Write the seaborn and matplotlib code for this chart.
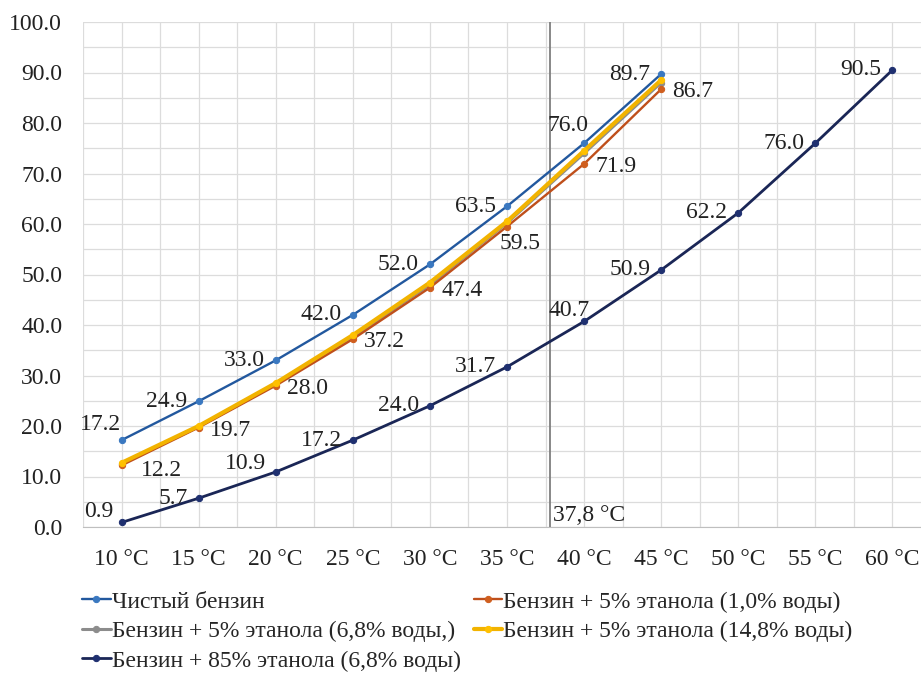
import numpy as np
import pandas as pd
import matplotlib
matplotlib.use('Agg')
import matplotlib.pyplot as plt
import seaborn as sns

# data
temps = [10, 15, 20, 25, 30, 35, 40, 45, 50, 55, 60]
tick_labels = [f'{t} °C' for t in temps]
pure = [17.2, 24.9, 33.0, 42.0, 52.0, 63.5, 76.0, 89.7]
e5_w10 = [12.2, 19.7, 28.0, 37.2, 47.4, 59.5, 71.9, 86.7]
e5_w68 = [12.5, 19.9, 28.3, 37.7, 48.0, 60.2, 74.0, 88.0]
e5_w148 = [12.7, 20.0, 28.5, 38.0, 48.4, 60.5, 74.5, 88.5]
e85_w68 = [0.9, 5.7, 10.9, 17.2, 24.0, 31.7, 40.7, 50.9, 62.2, 76.0, 90.5]
vline_temp = 37.8

names = ['Чистый бензин',
         'Бензин + 5% этанола (1,0% воды)',
         'Бензин + 5% этанола (6,8% воды,)',
         'Бензин + 5% этанола (14,8% воды)',
         'Бензин + 85% этанола (6,8% воды)']
series = [pure, e5_w10, e5_w68, e5_w148, e85_w68]
line_cols = ['#22589e', '#bf4f1b', '#8c8c8c', '#f2b300', '#1a2656']
mark_cols = ['#3a78c0', '#cf5e1e', '#8c8c8c', '#ffc000', '#1f3070']
widths = [1.7, 1.7, 2.2, 3.0, 2.0]

# value label placement: series -> (ha, dx, dy) in points, plus a few hand nudges
label_style = {0: ('right', -8, 0), 1: ('left', 8, -2), 4: ('right', -8, 0)}
nudges = {(0, 0): ('right', 0, 11), (0, 6): ('right', 3, 13),
          (1, 0): ('left', 14, -4), (1, 5): ('left', -5, -12),
          (4, 0): ('right', -6, 8), (4, 2): ('right', -7, 6),
          (4, 6): ('right', 4, 8)}

rows = []
for name, vals in zip(names, series):
    for i, v in enumerate(vals):
        rows.append({'series': name, 'pos': i, 'value': v})
df = pd.DataFrame(rows)

sns.set_style('white')
plt.rcParams['font.family'] = ['Liberation Serif', 'DejaVu Serif']

fig = plt.figure(figsize=(9.21, 6.77), dpi=100)
ax = fig.add_axes([83 / 921, 150 / 677, 848 / 921, 505 / 677])

for k, name in enumerate(names):
    sub = df[df['series'] == name]
    sns.lineplot(data=sub, x='pos', y='value', ax=ax, color=line_cols[k],
                 lw=widths[k], marker='o', markersize=4.5,
                 markerfacecolor=mark_cols[k], markeredgecolor=mark_cols[k],
                 label=name, zorder=3 + k if k != 2 else 3)

for k, (ha, dx, dy) in label_style.items():
    for i, v in enumerate(series[k]):
        h, x_off, y_off = nudges.get((k, i), (ha, dx, dy))
        ax.annotate(f'{v:.1f}', (i, v), xytext=(x_off, y_off), textcoords='offset points',
                    ha=h, va='center', fontsize=17, color='#222222', zorder=10)

vx = (vline_temp - temps[0]) / (temps[1] - temps[0])
ax.axvline(vx, color='#7f7f7f', lw=1.3, zorder=2)
ax.annotate('37,8 °C', (vx, 0), xytext=(2, 1), textcoords='offset points',
            ha='left', va='bottom', fontsize=17, color='#222222')

ax.set_xlim(-0.5, len(temps) - 0.5)
ax.set_ylim(0, 100)
ax.set_xticks(range(len(temps)))
ax.set_xticklabels(tick_labels)
ax.set_xticks(np.arange(-0.5, len(temps), 0.5), minor=True)
ax.set_yticks(np.arange(0, 101, 10))
ax.set_yticklabels([f'{v:.1f}' for v in np.arange(0, 101, 10)])
ax.set_yticks(np.arange(0, 101, 5), minor=True)
ax.grid(True, which='both', color='#dcdcdc', lw=0.9, zorder=0)
ax.tick_params(axis='both', which='both', length=0, labelsize=17, colors='#222222')
ax.tick_params(axis='x', pad=16)
ax.tick_params(axis='y', pad=15)
ax.set_xlabel('')
ax.set_ylabel('')
for s in ['left', 'top', 'right']:
    ax.spines[s].set_visible(False)
ax.spines['bottom'].set_color('#bfbfbf')

handles, labels = ax.get_legend_handles_labels()
order = [0, 2, 4, 1, 3]
ax.legend([handles[i] for i in order], [labels[i] for i in order], ncol=2,
          loc='upper left', bbox_to_anchor=(-0.012, -0.108), frameon=False,
          fontsize=17, handlelength=1.2, handletextpad=0.05, columnspacing=0.55,
          labelspacing=0.34, borderaxespad=0)

fig.savefig('out.png', dpi=100)
